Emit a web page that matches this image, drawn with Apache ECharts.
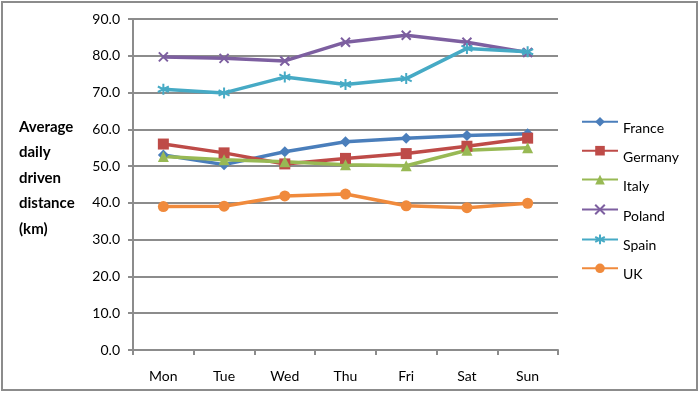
<!DOCTYPE html>
<html><head><meta charset="utf-8">
<script src="https://cdn.jsdelivr.net/npm/echarts@6/dist/echarts.min.js"></script>
<style>html,body{margin:0;padding:0;background:#fff}#c{width:700px;height:394px}</style>
</head><body><div id="c"></div>
<script>
const days = ['Mon','Tue','Wed','Thu','Fri','Sat','Sun'];
const france  = [53.0, 50.4, 53.9, 56.6, 57.6, 58.3, 58.8];
const germany = [56.0, 53.6, 50.6, 52.1, 53.4, 55.4, 57.6];
const italy   = [52.6, 51.7, 51.2, 50.4, 50.1, 54.3, 55.0];
const poland  = [79.7, 79.3, 78.6, 83.7, 85.6, 83.7, 80.9];
const spain   = [70.9, 69.9, 74.2, 72.2, 73.8, 82.0, 81.1];
const uk      = [39.0, 39.1, 41.9, 42.4, 39.2, 38.7, 39.9];
const yTitle = 'Average\ndaily\ndriven\ndistance\n(km)';

const FONT = 'Lato';
const X_PATH = 'path://M-1,-1L1,1M-1,1L1,-1';
const AST_PATH = 'path://M0,-1L0,1M-0.87,-0.5L0.87,0.5M-0.87,0.5L0.87,-0.5';

function mk(name, data, color, symbol, size, stroke) {
  return {
    name, type: 'line', data, symbol, symbolSize: size,
    lineStyle: {color, width: 3.5},
    itemStyle: stroke ? {color: color, borderColor: color, borderWidth: 2} : {color: color},
    emphasis: {disabled: true}
  };
}

const chart = echarts.init(document.getElementById('c'), null, {renderer: 'canvas'});
chart.setOption({
  animation: false,
  textStyle: {fontFamily: FONT},
  title: {
    text: yTitle, left: 14, top: 109,
    textStyle: {fontFamily: FONT, fontWeight: 'bold', fontSize: 15, lineHeight: 25.5, color: '#000'}
  },
  graphic: [{
    type: 'rect', shape: {x: 2, y: 2, width: 695, height: 388},
    style: {fill: 'none', stroke: '#8c8c8c', lineWidth: 2}, silent: true, z: -1
  }],
  legend: {
    orient: 'vertical', left: 576, top: 112, itemGap: 10.6,
    itemWidth: 36, itemHeight: 12,
    formatter: n => '{t|' + n + '}',
    textStyle: {fontFamily: FONT, fontSize: 14, color: '#000',
      rich: {t: {fontFamily: FONT, fontSize: 14, color: '#000', padding: [13, 0, 0, 0]}}},
    data: ['France','Germany','Italy','Poland','Spain','UK']
  },
  grid: {left: 133, right: 142, top: 19, bottom: 44, containLabel: false},
  xAxis: {
    type: 'category', data: days, boundaryGap: true,
    axisLine: {lineStyle: {color: '#8c8c8c', width: 2}},
    axisTick: {show: true, length: 5, lineStyle: {color: '#8c8c8c', width: 2}},
    axisLabel: {fontFamily: FONT, fontSize: 14, color: '#000', margin: 19}
  },
  yAxis: {
    type: 'value', min: 0, max: 90, interval: 10,
    axisLine: {show: true, lineStyle: {color: '#8c8c8c', width: 2}},
    axisTick: {show: true, length: 5, lineStyle: {color: '#8c8c8c', width: 2}},
    splitLine: {lineStyle: {color: '#8c8c8c', width: 2}},
    axisLabel: {fontFamily: FONT, fontSize: 14, color: '#000', margin: 13,
      formatter: v => v.toFixed(1)}
  },
  series: [
    mk('France', france, '#4a7ebb', 'diamond', 11),
    mk('Germany', germany, '#be4b48', 'rect', 11),
    mk('Italy', italy, '#98b954', 'triangle', 11),
    mk('Poland', poland, '#7d5fa0', X_PATH, 9, true),
    mk('Spain', spain, '#46aac5', AST_PATH, 11, true),
    mk('UK', uk, '#f08a3c', 'circle', 11)
  ]
});
</script></body></html>
